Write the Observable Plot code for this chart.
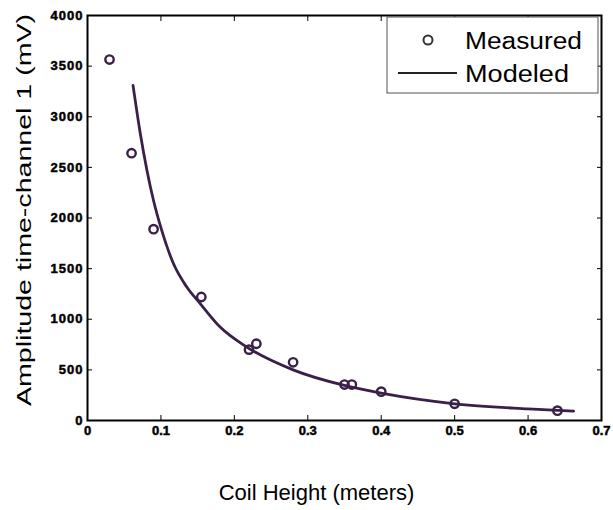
<!DOCTYPE html>
<html><head><meta charset="utf-8">
<script src="https://cdn.jsdelivr.net/npm/d3@7"></script>
<script src="https://cdn.jsdelivr.net/npm/@observablehq/plot@0.6"></script>
<style>body{margin:0;background:#fff}</style>
</head><body><div id="chart"></div>
<script>
const measuredX = [0.03, 0.06, 0.09, 0.155, 0.22, 0.23, 0.28, 0.35, 0.36, 0.40, 0.50, 0.64];
const measuredY = [3565, 2640, 1890, 1220, 700, 758, 575, 355, 355, 285, 165, 97];
const modeledX = [0.062, 0.072, 0.081, 0.090, 0.101, 0.117, 0.135, 0.154, 0.181, 0.217, 0.280, 0.350, 0.400, 0.500, 0.600, 0.662];
const modeledY = [3310, 2830, 2470, 2170, 1880, 1550, 1320, 1150, 920, 725, 500, 346, 270, 165, 115, 92];
const xTicks = [0, 0.1, 0.2, 0.3, 0.4, 0.5, 0.6, 0.7];
const xTickLabels = ["0", "0.1", "0.2", "0.3", "0.4", "0.5", "0.6", "0.7"];
const yTicks = [0, 500, 1000, 1500, 2000, 2500, 3000, 3500, 4000];
const yTickLabels = ["0", "500", "1000", "1500", "2000", "2500", "3000", "3500", "4000"];
const xLabel = "Coil Height (meters)";
const yLabel = "Amplitude time-channel 1 (mV)";
const legendLabels = ["Measured", "Modeled"];

const measured = measuredX.map((x, i) => ({x, y: measuredY[i]}));
const modeled = modeledX.map((x, i) => ({x, y: modeledY[i]}));
const color = "#3a2048";
const tickFont = {fontSize: 13, fontWeight: "bold"};

const chart = Plot.plot({
  width: 613, height: 510,
  marginLeft: 87, marginRight: 12, marginTop: 15, marginBottom: 90,
  x: {domain: [0, 0.7]},
  y: {domain: [0, 4000]},
  style: {fontFamily: "'Liberation Sans', Arial, sans-serif", background: "#fff", color: "#000"},
  marks: [
    Plot.axisX(xTicks, {anchor: "bottom", tickSize: 0, tickPadding: 5, tickFormat: d => xTickLabels[xTicks.indexOf(d)], ...tickFont, label: null}),
    Plot.axisX(xTicks, {anchor: "bottom", tickSize: -5, tickFormat: () => "", label: null}),
    Plot.axisX(xTicks, {anchor: "top", tickSize: -5, tickFormat: () => "", label: null}),
    Plot.axisY(yTicks, {anchor: "left", tickSize: 0, tickPadding: 4, tickFormat: d => yTickLabels[yTicks.indexOf(d)], ...tickFont, label: null}),
    Plot.axisY(yTicks, {anchor: "left", tickSize: -5, tickFormat: () => "", label: null}),
    Plot.axisY(yTicks, {anchor: "right", tickSize: -5, tickFormat: () => "", label: null}),
    Plot.line(modeled, {x: "x", y: "y", stroke: color, strokeWidth: 2.8, curve: "monotone-x"}),
    Plot.dot(measured, {x: "x", y: "y", r: 4.2, stroke: color, strokeWidth: 2.4, fill: "none"}),
    Plot.frame({stroke: "#000", strokeWidth: 2}),
    Plot.text([xLabel], {frameAnchor: "bottom", textAnchor: "middle", lineAnchor: "middle", dx: -28, dy: 72, fontSize: 22, fill: "#000"}),
    Plot.text([yLabel], {frameAnchor: "left", textAnchor: "middle", lineAnchor: "middle", dx: -63, dy: -8, rotate: -90, fontSize: 20, fill: "#000"})
  ]
});

const svg = d3.select(chart);
svg.selectAll('g[aria-label="y-axis tick label"] text').style("letter-spacing", "1px")
  .attr("stroke", "#000").attr("stroke-width", 0.5);
svg.selectAll('g[aria-label="x-axis tick label"] text')
  .attr("stroke", "#000").attr("stroke-width", 0.5);
svg.selectAll("text").filter(function() { return this.textContent === yLabel; })
  .attr("textLength", 392).attr("lengthAdjust", "spacingAndGlyphs");

const lg = svg.append("g").attr("font-family", "'Liberation Sans', Arial, sans-serif").attr("text-anchor", "start");
lg.append("rect").attr("x", 387).attr("y", 17).attr("width", 211).attr("height", 76)
  .attr("fill", "#fff").attr("stroke", "#555").attr("stroke-width", 1);
lg.append("circle").attr("cx", 428).attr("cy", 40).attr("r", 4.5)
  .attr("fill", "none").attr("stroke", "#333").attr("stroke-width", 2);
lg.append("line").attr("x1", 398).attr("x2", 457).attr("y1", 73).attr("y2", 73)
  .attr("stroke", "#222").attr("stroke-width", 1.8);
lg.append("text").attr("x", 465).attr("y", 48.5).attr("font-size", 23).attr("fill", "#000")
  .attr("textLength", 117).attr("lengthAdjust", "spacingAndGlyphs").text(legendLabels[0]);
lg.append("text").attr("x", 465).attr("y", 81.5).attr("font-size", 23).attr("fill", "#000")
  .attr("textLength", 104).attr("lengthAdjust", "spacingAndGlyphs").text(legendLabels[1]);

document.getElementById("chart").appendChild(chart);
</script>
</body></html>
